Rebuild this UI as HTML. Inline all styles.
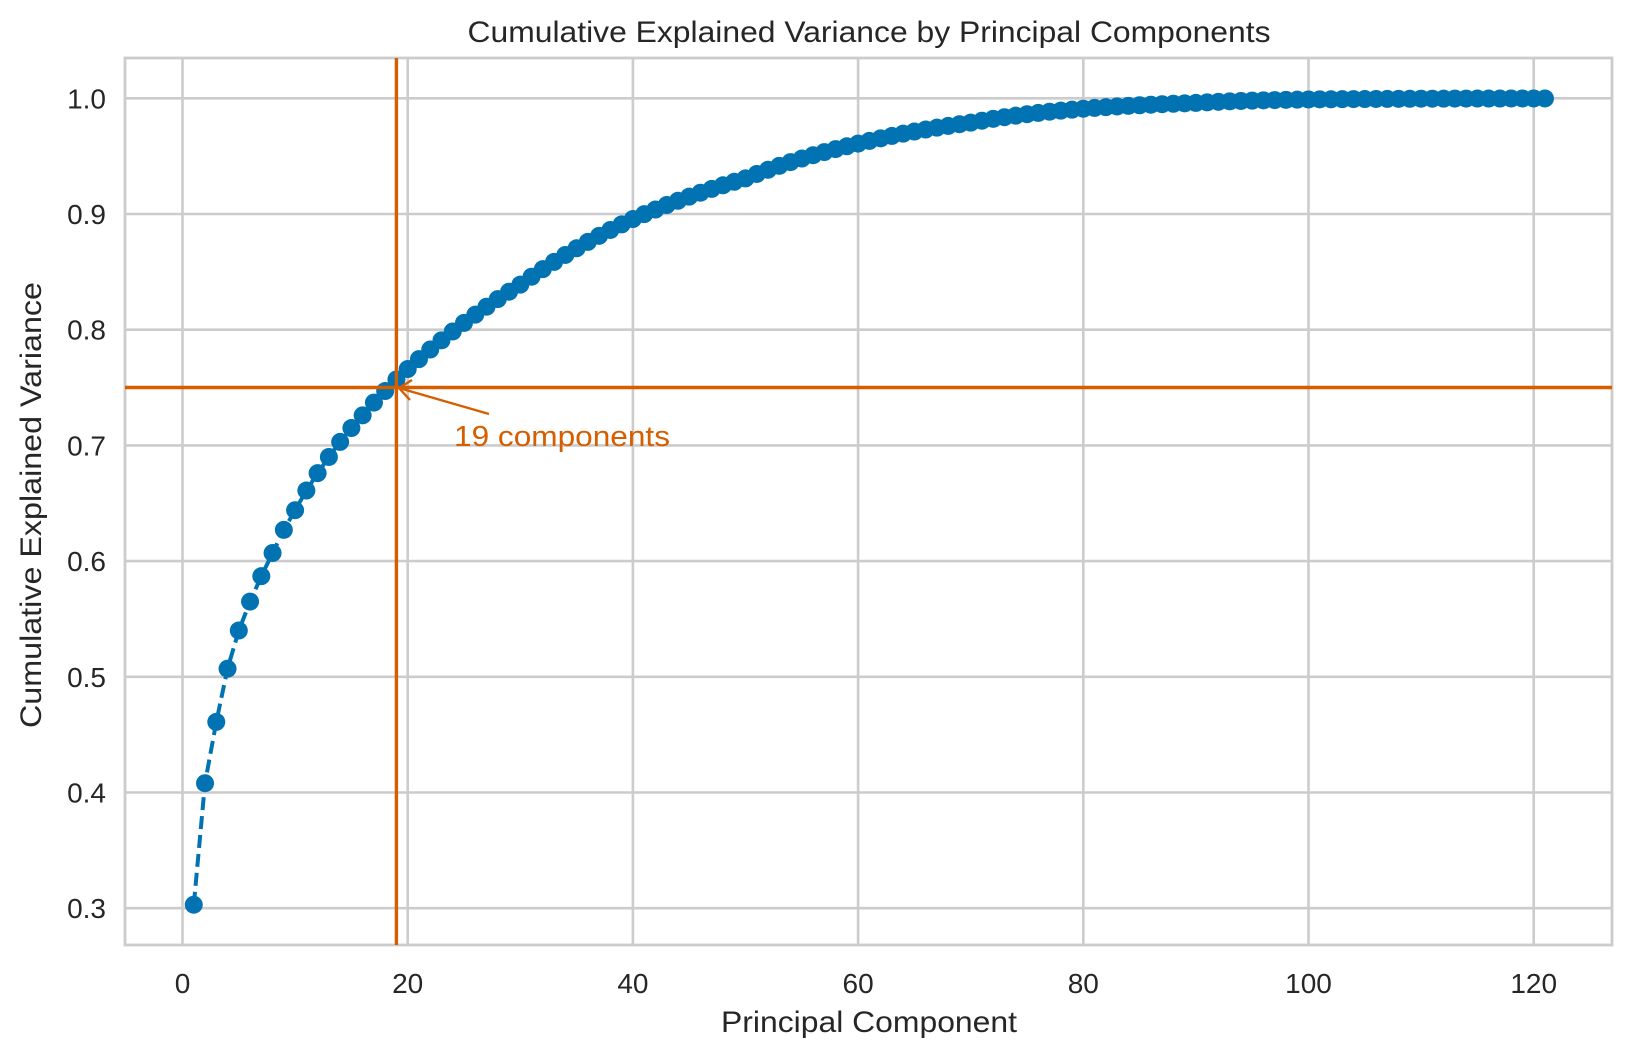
<!DOCTYPE html>
<html><head><meta charset="utf-8"><style>
html,body{margin:0;padding:0;background:#fff;}
svg{display:block;font-family:"Liberation Sans",Arial,sans-serif;}
</style></head><body>
<svg id="s" width="1632" height="1057" viewBox="0 0 1632 1057" xmlns="http://www.w3.org/2000/svg">
<rect width="1632" height="1057" fill="#fff"/>
<g id="grid" stroke="#cccccc" stroke-width="2.6"></g>
<rect x="125" y="58" width="1487" height="887" fill="none" stroke="#cccccc" stroke-width="2.8"/>
<g id="ticks" fill="#262626" font-size="28"></g>
<polyline id="line" fill="none" stroke="#0173b2" stroke-width="4" stroke-dasharray="13,6"/>
<g id="pts" fill="#0173b2"></g>
<line x1="125" y1="387.5" x2="1612" y2="387.5" stroke="#d55e00" stroke-width="3.4"/>
<line x1="396.4" y1="58" x2="396.4" y2="945" stroke="#d55e00" stroke-width="3.4"/>
<line x1="489" y1="414" x2="399" y2="388" stroke="#d55e00" stroke-width="2.4"/>
<polyline points="412,380 399,388 410,400" fill="none" stroke="#d55e00" stroke-width="2.4"/>
<text x="454" y="446" fill="#d55e00" font-size="29" textLength="216" lengthAdjust="spacingAndGlyphs">19 components</text>
<text x="869" y="42" text-anchor="middle" fill="#262626" font-size="30" textLength="803" lengthAdjust="spacingAndGlyphs">Cumulative Explained Variance by Principal Components</text>
<text x="869" y="1032" text-anchor="middle" fill="#262626" font-size="30" textLength="296" lengthAdjust="spacingAndGlyphs">Principal Component</text>
<text transform="translate(41,505) rotate(-90)" text-anchor="middle" fill="#262626" font-size="30" textLength="446" lengthAdjust="spacingAndGlyphs">Cumulative Explained Variance</text>
</svg>
<script>
var X=function(n){return 182.5+n*11.26;};
var Y=function(v){return 98.3+(1-v)*1157;};
var ns="http://www.w3.org/2000/svg";
function el(p,t,a,txt){var e=document.createElementNS(ns,t);for(var k in a)e.setAttribute(k,a[k]);if(txt!==undefined)e.textContent=txt;document.getElementById(p).appendChild(e);}
for(var i=0;i<=120;i+=20){el('grid','line',{x1:X(i),x2:X(i),y1:58,y2:945});el('ticks','text',{x:X(i),y:993,'text-anchor':'middle'},String(i));}
for(var v=3;v<=10;v++){var y=Y(v/10);el('grid','line',{x1:125,x2:1612,y1:y,y2:y});el('ticks','text',{x:106,y:y+10,'text-anchor':'end'},(v/10).toFixed(1));}
var early=[0,0.303,0.408,0.461,0.507,0.540,0.565,0.587,0.607,0.627,0.644,0.661,0.676,0.690,0.703,0.715,0.726,0.737,0.747,0.757];
var kn=[[19,-1.415],[30,-1.826],[40,-2.26],[50,-2.67],[60,-3.24],[70,-3.86],[80,-4.71],[90,-5.52],[100,-6.9],[121,-9]];
function val(n){if(n<=19)return early[n];for(var j=0;j<kn.length-1;j++){var a=kn[j],b=kn[j+1];if(n<=b[0]){var t=(n-a[0])/(b[0]-a[0]);return 1-Math.exp(a[1]+t*(b[1]-a[1]));}}return 1;}
var pts=[];
for(var n=1;n<=121;n++){var x=X(n),y=Y(val(n));pts.push(x.toFixed(1)+','+y.toFixed(1));el('pts','circle',{cx:x,cy:y,r:9});}
document.getElementById('line').setAttribute('points',pts.join(' '));
</script>
</body></html>
